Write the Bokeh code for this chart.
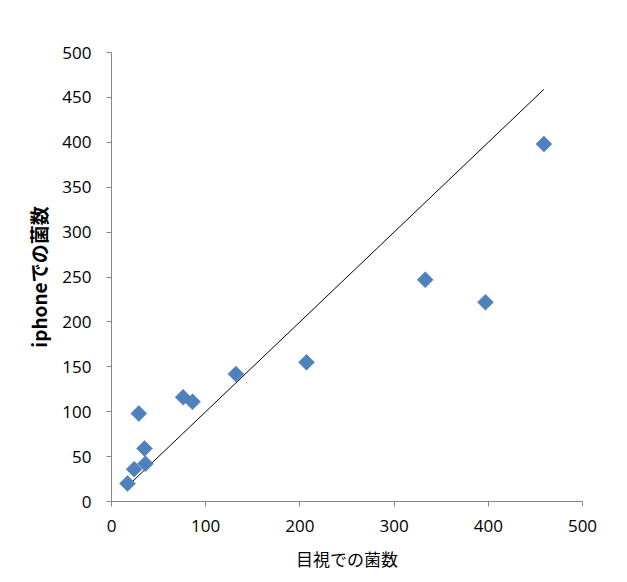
import math
from bokeh.plotting import figure
from bokeh.models import Range1d, FixedTicker, ColumnDataSource
from bokeh.embed import file_html
from bokeh.resources import INLINE

# data
visual_counts = [17, 24, 29, 35, 36, 76, 86, 132, 207, 333, 397, 459]
iphone_counts = [20, 36, 98, 59, 42, 116, 111, 142, 155, 247, 222, 398]
x_ticks = [0, 100, 200, 300, 400, 500]
y_ticks = [0, 50, 100, 150, 200, 250, 300, 350, 400, 450, 500]

line_x = [min(visual_counts), max(visual_counts)]
line_y = [min(visual_counts), max(visual_counts)]

p = figure(width=611, height=573, output_backend="svg", toolbar_location=None,
           x_range=Range1d(0, 500), y_range=Range1d(0, 500),
           min_border_left=111, min_border_right=29, min_border_top=52, min_border_bottom=72)
p.outline_line_color = None
p.xgrid.visible = False
p.ygrid.visible = False

p.line(line_x, line_y, line_color="#000000", line_width=1)

src = ColumnDataSource(dict(x=visual_counts, y=iphone_counts))
p.scatter("x", "y", source=src, marker="square", size=11.3, angle=math.pi / 4,
          fill_color="#4F81BD", line_color="#4A7EBB", line_width=0.5)

for ax in (p.xaxis[0], p.yaxis[0]):
    ax.axis_line_color = "#868686"
    ax.major_tick_line_color = "#868686"
    ax.major_tick_out = 5
    ax.major_tick_in = 0
    ax.minor_tick_line_color = None
    ax.major_label_text_font = "Open Sans"
    ax.major_label_text_font_size = "17px"
    ax.major_label_text_color = "#000000"
    ax.axis_label_text_font = "Noto Sans CJK JP"
    ax.axis_label_text_color = "#000000"

p.xaxis[0].ticker = FixedTicker(ticks=x_ticks)
p.yaxis[0].ticker = FixedTicker(ticks=y_ticks)
p.xaxis[0].major_label_standoff = 13
p.yaxis[0].major_label_standoff = 15
p.xaxis[0].axis_label = "目視での菌数"
p.xaxis[0].axis_label_text_font_style = "normal"
p.xaxis[0].axis_label_text_font_size = "17px"
p.xaxis[0].axis_label_standoff = 11
p.yaxis[0].axis_label = "iphoneでの菌数"
p.yaxis[0].axis_label_text_font_style = "bold"
p.yaxis[0].axis_label_text_font_size = "19px"
p.yaxis[0].axis_label_standoff = 7

open("out.html", "w").write(file_html(p, INLINE))
